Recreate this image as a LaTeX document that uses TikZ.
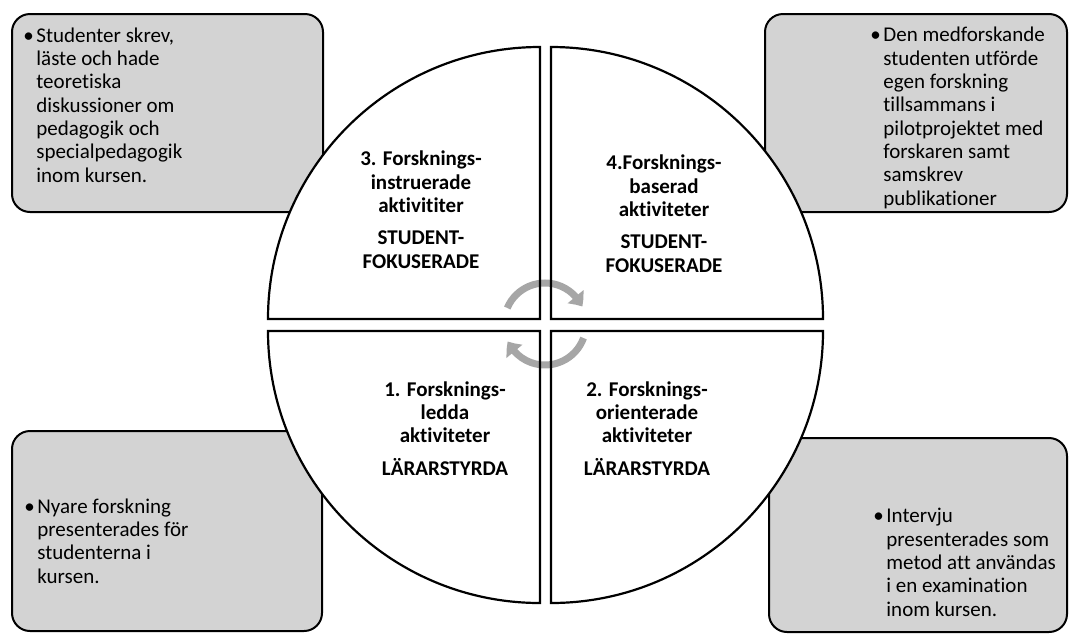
\documentclass[tikz,border=0pt]{standalone}
\usepackage{fontspec}
\setmainfont{Carlito}[Ligatures={NoCommon}]
\usetikzlibrary{arrows.meta,bending}
\definecolor{boxgray}{RGB}{211,211,211}
\definecolor{arrowgray}{RGB}{166,166,166}
\newcommand\bulletitem{\makebox[6.5pt][l]{•}}
\newcommand\indentline{\hspace*{6.5pt}}
\begin{document}
\begin{tikzpicture}[x=0.5pt,y=-0.5pt,
  infobox/.style={draw=black, line width=1pt, fill=boxgray, rounded corners=9pt},
  quadfill/.style={fill=white},
  quadline/.style={draw=black, line width=1.1pt, line join=miter},
  boxtext/.style={anchor=base west, inner sep=0pt, align=left, font=\fontsize{10.5}{11.65}\selectfont},
  quadtext/.style={anchor=base, inner sep=0pt, align=center, font=\fontsize{10.5}{11.65}\selectfont\bfseries},
  cyc/.style={draw=arrowgray, line width=3.5pt, -{Triangle[width=10pt,length=6pt,bend]}}
]
\useasboundingbox (0,0) rectangle (1069,633);

% corner boxes
\draw[infobox] (12,14) rectangle (323,212);
\draw[infobox] (765,14) rectangle (1067,212);
\draw[infobox] (12,431) rectangle (322,631);
\draw[infobox] (769,438) rectangle (1067,632);

% quadrant fills
\fill[quadfill] (540,319) -- (268,319) arc[start angle=180,end angle=270,radius=272] -- cycle;
\fill[quadfill] (551,319) -- (823,319) arc[start angle=0,end angle=-90,radius=272] -- cycle;
\fill[quadfill] (540,331) -- (268,331) arc[start angle=180,end angle=90,radius=272] -- cycle;
\fill[quadfill] (551,331) -- (823,331) arc[start angle=0,end angle=90,radius=272] -- cycle;

% cycle arrows
\draw[cyc] (545,324) ++(-157:41) arc[start angle=-157, end angle=-25, radius=41];
\draw[cyc] (545,324) ++(20:41) arc[start angle=20, end angle=155, radius=41];

% quadrant outlines
\draw[quadline] (540,319) -- (268,319) arc[start angle=180,end angle=270,radius=272] -- cycle;
\draw[quadline] (551,319) -- (823,319) arc[start angle=0,end angle=-90,radius=272] -- cycle;
\draw[quadline] (540,331) -- (268,331) arc[start angle=180,end angle=90,radius=272] -- cycle;
\draw[quadline] (551,331) -- (823,331) arc[start angle=0,end angle=90,radius=272] -- cycle;

% quadrant texts (anchor = baseline of last line)
\node[quadtext] (q3) at (421,268) {3. Forsknings-\\instruerade\\aktivititer\\[4.5pt]STUDENT-\\FOKUSERADE};
\node[quadtext] (q4) at (664,272) {4.Forsknings-\\baserad\\aktiviteter\\[4.5pt]STUDENT-\\FOKUSERADE};
\node[quadtext] (q1) at (445,475) {1. Forsknings-\\ledda\\aktiviteter\\[4.5pt]LÄRARSTYRDA};
\node[quadtext] (q2) at (647,475) {2. Forsknings-\\orienterade\\aktiviteter\\[4.5pt]LÄRARSTYRDA};

% box texts (anchor = baseline of last line)
\node[boxtext] (t3) at (23,182) {\bulletitem Studenter skrev,\\\indentline läste och hade\\\indentline teoretiska\\\indentline diskussioner om\\\indentline pedagogik och\\\indentline specialpedagogik\\\indentline inom kursen.};
\node[boxtext] (t4) at (870,205) {\bulletitem Den medforskande\\\indentline studenten utförde\\\indentline egen forskning\\\indentline tillsammans i\\\indentline pilotprojektet med\\\indentline forskaren samt\\\indentline samskrev\\\indentline publikationer};
\node[boxtext] (t1) at (24,583) {\bulletitem Nyare forskning\\\indentline presenterades för\\\indentline studenterna i\\\indentline kursen.};
\node[boxtext] (t2) at (873,616) {\bulletitem Intervju\\\indentline presenterades som\\\indentline metod att användas\\\indentline i en examination\\\indentline inom kursen.};
\end{tikzpicture}
\end{document}
